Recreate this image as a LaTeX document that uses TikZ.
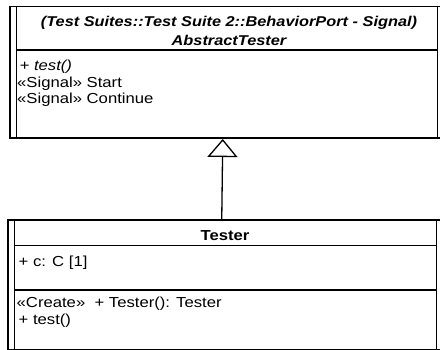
\documentclass[tikz,border=0pt]{standalone}
\usepackage{fontspec}
\setmainfont{Liberation Sans}[FakeStretch=1.15]
\usetikzlibrary{arrows.meta}
\begin{document}
\begin{tikzpicture}[x=1pt,y=-1pt,
  box/.style={draw, line width=1.5pt, inner sep=0pt, anchor=north west},
  inner/.style={line width=1pt},
  sep/.style={line width=1.3pt},
  txt/.style={inner sep=0pt, anchor=base west, font=\fontsize{14.5}{17}\selectfont},
  ttl/.style={inner sep=0pt, anchor=base, font=\fontsize{14.2}{17}\selectfont\bfseries\itshape},
  gen/.style={line width=1.3pt, -{Triangle[open, length=18pt, width=30pt, line width=1.3pt]}}]
\useasboundingbox (0,0) rectangle (440,350);
\clip (0,0) rectangle (440,350);
\fill[white] (0,0) rectangle (440,350);
% top class
\node[box, minimum width=434pt, minimum height=131.5pt] (abs) at (9,6) {};
\draw[inner] ([xshift=7pt]abs.north west) -- ([xshift=7pt]abs.south west);
\draw[inner] ([xshift=-7pt]abs.north east) -- ([xshift=-7pt]abs.south east);
\draw[sep] ([xshift=7pt,yshift=-44pt]abs.north west) -- ([xshift=-7pt,yshift=-44pt]abs.north east);
\node[ttl] (t1) at (229,26.5) {(Test Suites::Test Suite 2::BehaviorPort - Signal)};
\node[ttl] (t2) at (229,46) {AbstractTester};
\node[txt] (o1) at (19.5,71) {\itshape + test()};
\node[txt] (o2) at (17,87.5) {«Signal» Start};
\node[txt] (o3) at (17,104) {«Signal» Continue};
% bottom class
\node[box, minimum width=436pt, minimum height=130pt] (tst) at (7,219.3) {};
\draw[inner] ([xshift=7.6pt]tst.north west) -- ([xshift=7.6pt]tst.south west);
\draw[inner] ([xshift=-8pt]tst.north east) -- ([xshift=-8pt]tst.south east);
\draw[sep] ([xshift=7.6pt,yshift=-26.4pt]tst.north west) -- ([xshift=-8pt,yshift=-26.4pt]tst.north east);
\draw[sep] ([xshift=7.6pt,yshift=-70.7pt]tst.north west) -- ([xshift=-8pt,yshift=-70.7pt]tst.north east);
\node[txt, anchor=base, font=\fontsize{14.5}{17}\selectfont\bfseries] (n) at (225,241) {Tester};
\node[txt] (a1) at (18.5,267) {+ c: C [1]};
\node[txt] (m1) at (16.5,308) {«Create»\ \ + Tester(): Tester};
\node[txt] (m2) at (18.5,324.5) {+ test()};
% generalization
\coordinate (gb) at ([xshift=-4pt]tst.north);
\coordinate (ga) at ([xshift=-4pt]abs.south);
\draw[gen] (gb) -- (ga);
\end{tikzpicture}
\end{document}
